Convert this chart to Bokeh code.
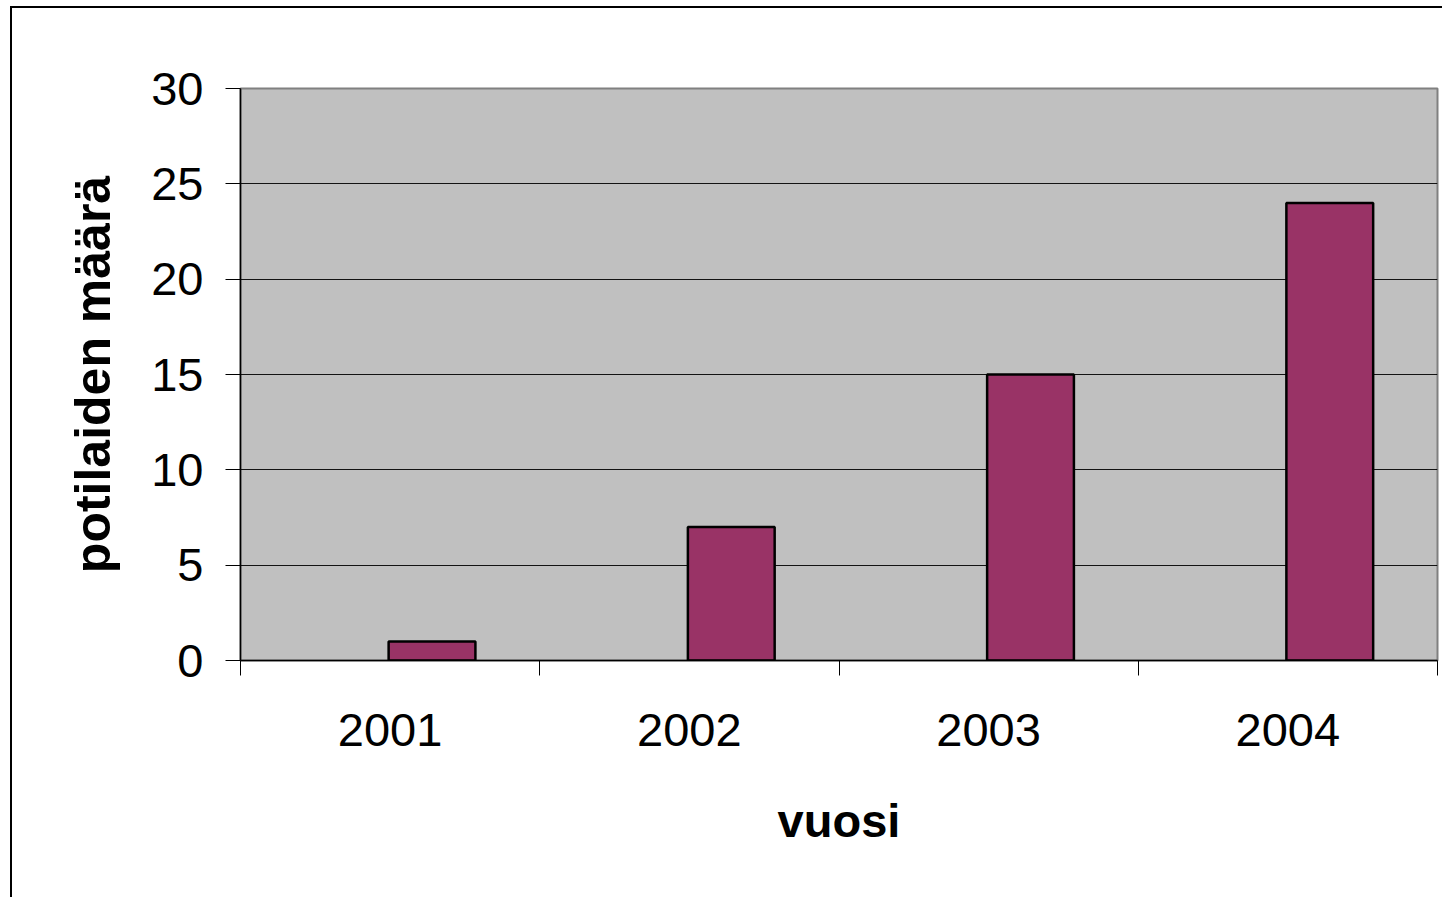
from bokeh.plotting import figure
from bokeh.models import Range1d, FixedTicker
from bokeh.embed import file_html
from bokeh.resources import INLINE

years = ["2001", "2002", "2003", "2004"]
counts = [1, 7, 15, 24]
y_ticks = [0, 5, 10, 15, 20, 25, 30]
x_label = "vuosi"
y_label = "potilaiden määrä"

FONT = "Liberation Sans"

p = figure(width=1432, height=891, output_backend="svg", toolbar_location=None,
           x_range=Range1d(0, len(years)), y_range=Range1d(0, 30),
           min_border_left=228, min_border_top=80, min_border_right=7, min_border_bottom=239,
           styles={"border-top": "2px solid black", "border-left": "2px solid black",
                   "margin-left": "10px", "margin-top": "6px"})

p.background_fill_color = "#C0C0C0"
p.border_fill_color = "white"
p.outline_line_color = "#808080"
p.outline_line_width = 2

idx = list(range(len(years)))
lefts = [i + 0.495 for i in idx]
rights = [i + 0.785 for i in idx]
p.quad(left=lefts, right=rights, bottom=0, top=counts,
       fill_color="#993366", line_color="black", line_width=2.5)

# x axis
xa = p.xaxis[0]
xa.ticker = FixedTicker(ticks=[i + 0.5 for i in idx], minor_ticks=list(range(len(years) + 1)))
xa.major_label_overrides = {i + 0.5: y for i, y in zip(idx, years)}
xa.major_tick_line_color = None
xa.major_tick_out = 0
xa.major_tick_in = 0
xa.minor_tick_out = 15
xa.minor_tick_in = 0
xa.minor_tick_line_color = "black"
xa.axis_line_color = "black"
xa.axis_line_width = 1.5
xa.major_label_text_font = FONT
xa.major_label_text_font_size = "47px"
xa.major_label_text_color = "black"
xa.major_label_standoff = 38
xa.axis_label = x_label
xa.axis_label_text_font = FONT
xa.axis_label_text_font_size = "47px"
xa.axis_label_text_font_style = "bold"
xa.axis_label_text_color = "black"
xa.axis_label_standoff = 45

# y axis
ya = p.yaxis[0]
ya.ticker = FixedTicker(ticks=y_ticks)
ya.major_tick_out = 15
ya.major_tick_in = 0
ya.minor_tick_line_color = None
ya.major_tick_line_color = "black"
ya.axis_line_color = "black"
ya.axis_line_width = 1.5
ya.major_label_text_font = FONT
ya.major_label_text_font_size = "47px"
ya.major_label_text_color = "black"
ya.major_label_standoff = 22
ya.axis_label = y_label
ya.axis_label_text_font = FONT
ya.axis_label_text_font_size = "50px"
ya.axis_label_text_font_style = "bold"
ya.axis_label_text_color = "black"
ya.axis_label_standoff = 27

p.xgrid.grid_line_color = None
p.ygrid.grid_line_color = "black"
p.ygrid.grid_line_width = 1
p.ygrid.grid_line_alpha = 0.9

open("out.html", "w").write(file_html(p, INLINE))
